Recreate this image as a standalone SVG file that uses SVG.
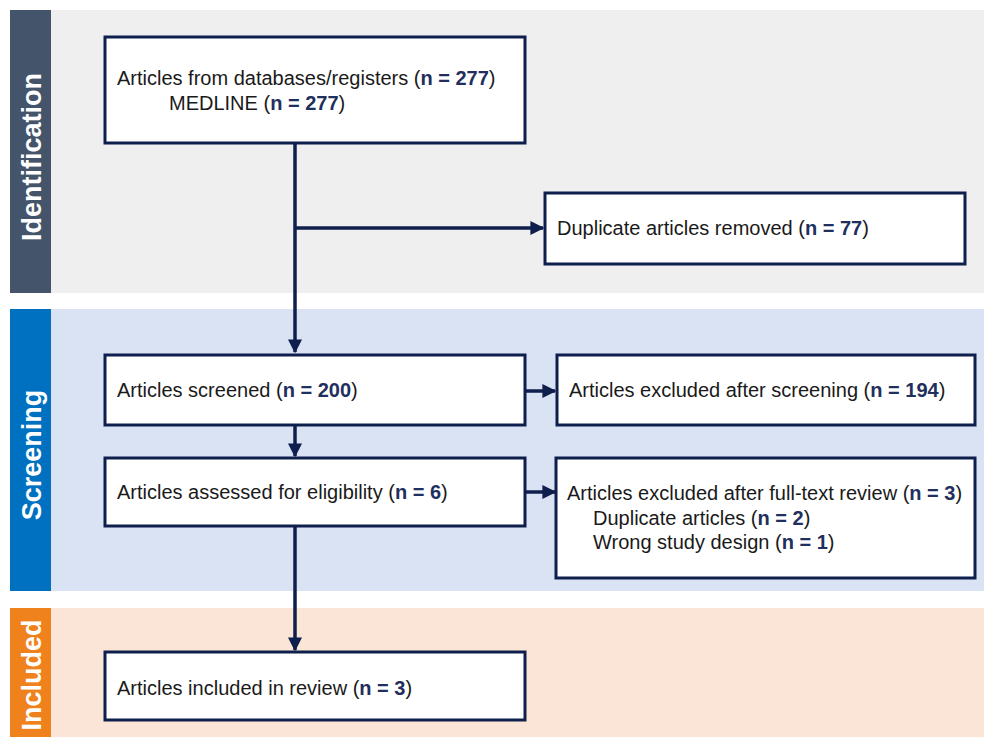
<svg xmlns="http://www.w3.org/2000/svg" width="984" height="737" viewBox="0 0 984 737">
<style>
.box{fill:#ffffff;stroke:#0f1f4d;stroke-width:3}
.t{font-family:"Liberation Sans",Arial,sans-serif;font-size:20px;fill:#1a1a1a}
.n{font-weight:bold;fill:#1f2f5e}
.lab{font-family:"Liberation Sans",Arial,sans-serif;font-size:27px;font-weight:bold;fill:#ffffff}
.c{stroke:#0f1f4d;stroke-width:3.5;fill:none}
</style>
<defs>
<marker id="ah" markerWidth="4" markerHeight="4" refX="3.6" refY="2" orient="auto" markerUnits="strokeWidth">
<path d="M0,0 L4,2 L0,4 Z" fill="#0f1f4d"/>
</marker>
</defs>
<rect width="984" height="737" fill="#ffffff"/>
<g id="band-identification">
<rect x="10" y="10" width="974" height="283" fill="#efefef"/>
<rect x="10" y="10" width="41" height="283" fill="#44546a"/>
<text class="lab" transform="translate(40.5,157) rotate(-90)" text-anchor="middle">Identification</text>
</g>
<g id="band-screening">
<rect x="10" y="309" width="974" height="282" fill="#dae3f3"/>
<rect x="10" y="309" width="41" height="282" fill="#0070c0"/>
<text class="lab" transform="translate(40.5,455) rotate(-90)" text-anchor="middle">Screening</text>
</g>
<g id="band-included">
<rect x="10" y="608" width="974" height="129" fill="#fbe5d6"/>
<rect x="10" y="608" width="41" height="129" fill="#f0821e"/>
<text class="lab" transform="translate(40.5,675) rotate(-90)" text-anchor="middle">Included</text>
</g>
<g id="connectors">
<path class="c" d="M295,143 V352" marker-end="url(#ah)"/>
<path class="c" d="M295,228 H543" marker-end="url(#ah)"/>
<path class="c" d="M295,425 V456" marker-end="url(#ah)"/>
<path class="c" d="M525,391 H555" marker-end="url(#ah)"/>
<path class="c" d="M525,492 H555" marker-end="url(#ah)"/>
<path class="c" d="M295,527 V650" marker-end="url(#ah)"/>
</g>
<g id="node-records">
<rect class="box" x="105" y="37" width="420" height="106"/>
<text class="t" x="117" y="85">Articles from databases/registers (<tspan class="n">n = 277</tspan>)</text>
<text class="t" x="169" y="110">MEDLINE (<tspan class="n">n = 277</tspan>)</text>
</g>
<g id="node-duplicates">
<rect class="box" x="545" y="193" width="420" height="71"/>
<text class="t" x="557" y="235">Duplicate articles removed (<tspan class="n">n = 77</tspan>)</text>
</g>
<g id="node-screened">
<rect class="box" x="105" y="355" width="420" height="70"/>
<text class="t" x="117" y="397">Articles screened (<tspan class="n">n = 200</tspan>)</text>
</g>
<g id="node-excluded-screening">
<rect class="box" x="557" y="355" width="418" height="70"/>
<text class="t" x="569" y="397">Articles excluded after screening (<tspan class="n">n = 194</tspan>)</text>
</g>
<g id="node-eligibility">
<rect class="box" x="105" y="458" width="420" height="68"/>
<text class="t" x="117" y="499">Articles assessed for eligibility (<tspan class="n">n = 6</tspan>)</text>
</g>
<g id="node-excluded-fulltext">
<rect class="box" x="556" y="458" width="419" height="120"/>
<text class="t" x="567" y="500">Articles excluded after full-text review (<tspan class="n">n = 3</tspan>)</text>
<text class="t" x="593" y="525">Duplicate articles (<tspan class="n">n = 2</tspan>)</text>
<text class="t" x="593" y="549">Wrong study design (<tspan class="n">n = 1</tspan>)</text>
</g>
<g id="node-included">
<rect class="box" x="105" y="652" width="420" height="68"/>
<text class="t" x="117" y="695">Articles included in review (<tspan class="n">n = 3</tspan>)</text>
</g>
</svg>
